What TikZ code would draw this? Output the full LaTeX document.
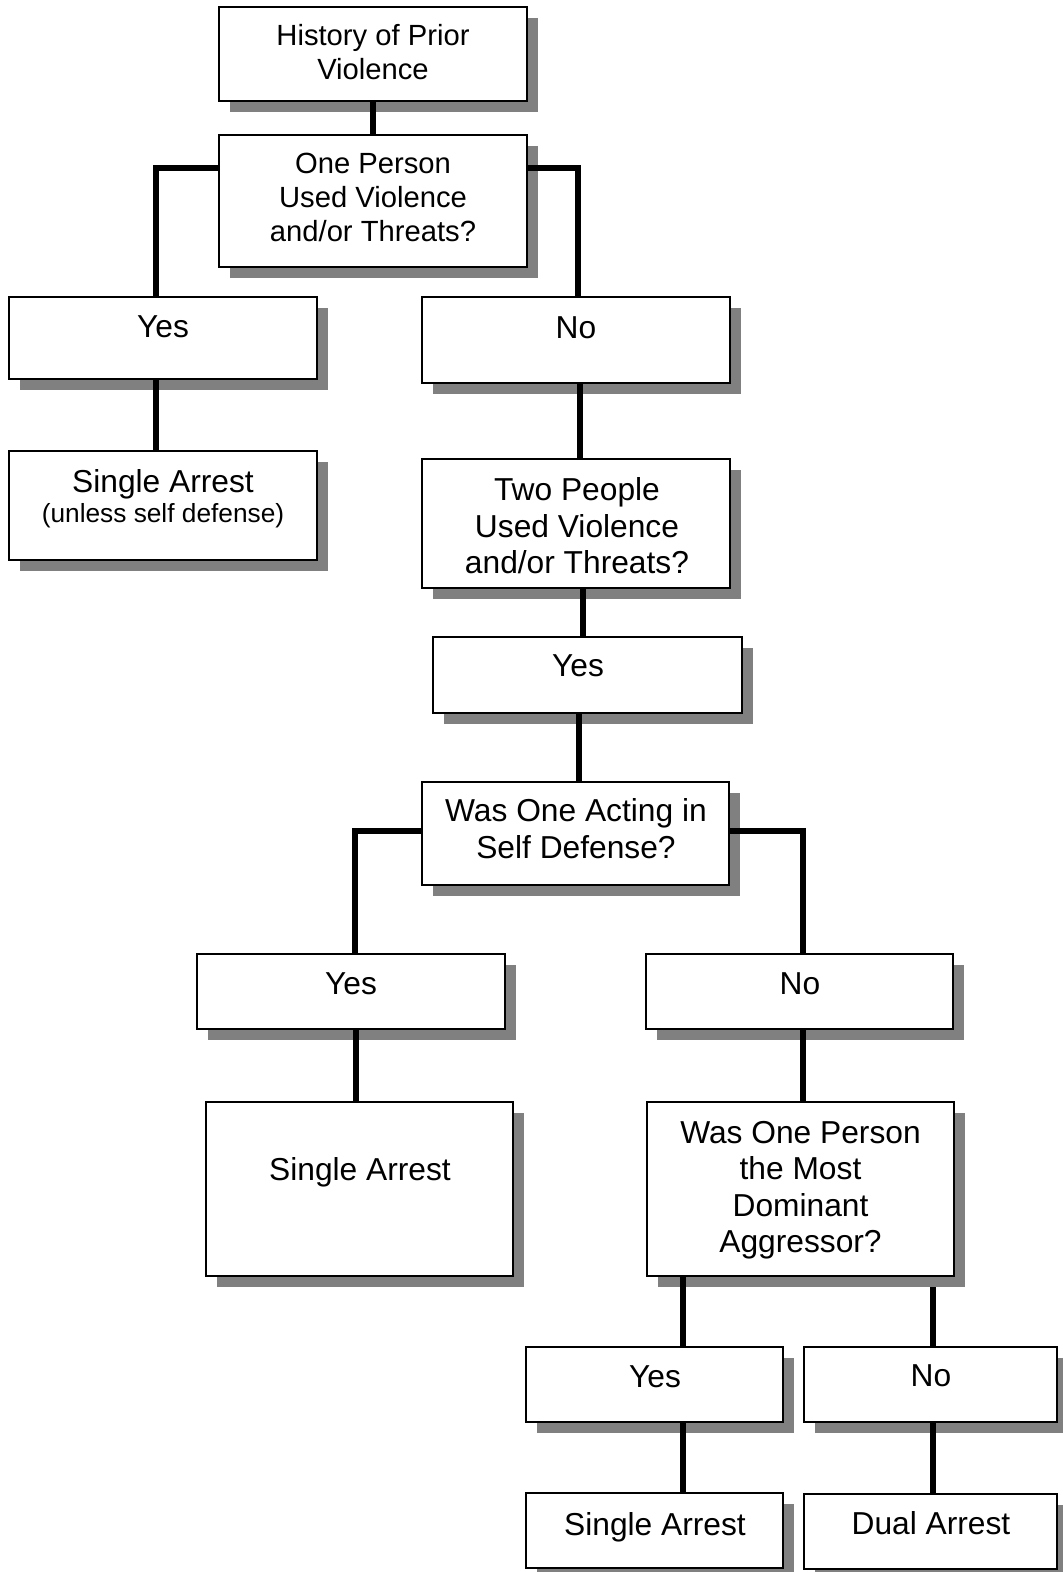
\documentclass[tikz,border=0pt]{standalone}
\usepackage{fontspec}
\setmainfont{Liberation Sans}
\usetikzlibrary{shadows,calc}
\tikzset{
  box/.style={draw=black, line width=1.1pt, fill=white, inner sep=0pt, outer sep=0pt, anchor=north west,
    drop shadow={shadow xshift=8.25pt, shadow yshift=-8.25pt, fill=black!50, opacity=1}},
  sz/.style 2 args={minimum width=#1*0.75pt, minimum height=#2*0.75pt},
  txt/.style={align=center, inner sep=0pt, font=\fontsize{23.8}{27.4}\selectfont},
  txtm/.style={align=center, inner sep=0pt, font=\fontsize{21.9}{25.5}\selectfont},
  txts/.style={align=center, inner sep=0pt, font=\fontsize{19.7}{23}\selectfont},
  conn/.style={line width=4.7pt}
}
\begin{document}
\begin{tikzpicture}[x=0.75pt,y=-0.75pt]
\useasboundingbox (0,0) rectangle (1063,1572);
\path[fill=white] (0,0) rectangle (1063,1572);

% boxes
\node[box, sz={308}{94}]  (b1)  at (219,7) {};
\node[box, sz={308}{132}] (b2)  at (219,135) {};
\node[box, sz={308}{82}]  (y2)  at (9,297) {};
\node[box, sz={308}{109}] (sa2) at (9,451) {};
\node[box, sz={308}{86}]  (n2)  at (422,297) {};
\node[box, sz={308}{129}] (tp)  at (422,459) {};
\node[box, sz={309}{76}]  (y3)  at (433,637) {};
\node[box, sz={307}{103}] (woa) at (422,782) {};
\node[box, sz={308}{75}]  (y4)  at (197,954) {};
\node[box, sz={307}{75}]  (n4)  at (646,954) {};
\node[box, sz={307}{174}] (sa4) at (206,1102) {};
\node[box, sz={307}{174}] (wop) at (647,1102) {};
\node[box, sz={257}{75}]  (y5)  at (526,1347) {};
\node[box, sz={253}{75}]  (n5)  at (804,1347) {};
\node[box, sz={257}{75}]  (sa5) at (526,1493) {};
\node[box, sz={253}{75}]  (da5) at (804,1494) {};

% texts
\node[txtm] (t1) at (373,52) {History of Prior\\Violence};
\node[txtm] (t2) at (373,197) {One Person\\Used Violence\\and/or Threats?};
\node[txt] (t3) at (163,327) {Yes};
\node[txt] (t4a) at (163,484) {Single Arrest};
\node[txts] (t4b) at (163,516) {(unless self defense)};
\node[txt] (t5) at (576,327.5) {No};
\node[txt] (t6) at (577,526) {Two People\\Used Violence\\and/or Threats?};
\node[txt] (t7) at (578,666) {Yes};
\node[txt] (t8) at (576,828.5) {Was One Acting in\\Self Defense?};
\node[txt] (t9) at (351,984) {Yes};
\node[txt] (t10) at (800,984) {No};
\node[txt] (t11) at (360,1172) {Single Arrest};
\node[txt] (t12) at (800.5,1190) {Was One Person\\the Most\\Dominant\\Aggressor?};
\node[txt] (t13) at (655,1377) {Yes};
\node[txt] (t14) at (655,1527) {Single Arrest};
\node[txt] (t15) at (931,1376) {No};
\node[txt] (t16) at (931,1523.5) {Dual Arrest};

% connectors
\draw[conn] (b1.south) -- (b2.north);
\draw[conn] ($(b2.north west)+(0,33)$) -| ($(y2.north)+(-7,0)$);
\draw[conn] ($(b2.north east)+(0,33)$) -| ($(n2.north)+(2,0)$);
\draw[conn] ($(y2.south)+(-7,0)$) -- ($(sa2.north)+(-7,0)$);
\draw[conn] ($(n2.south)+(4,0)$) -- ($(tp.north)+(4,0)$);
\draw[conn] ($(tp.south)+(7,0)$) -- ($(y3.north)+(-4.5,0)$);
\draw[conn] ($(y3.south)+(-8.5,0)$) -- ($(woa.north)+(3.5,0)$);
\draw[conn] ($(woa.north west)+(0,49)$) -| ($(y4.north)+(4,0)$);
\draw[conn] ($(woa.north east)+(0,49)$) -| ($(n4.north)+(3.5,0)$);
\draw[conn] ($(y4.south)+(5,0)$) -- ($(sa4.north)+(-3.5,0)$);
\draw[conn] ($(n4.south)+(3.5,0)$) -- ($(wop.north)+(2.5,0)$);
\draw[conn] ($(wop.south west)+(36,0)$) -- ($(y5.north)+(28.5,0)$);
\draw[conn] ($(wop.south east)+(-21,11)$) -- ($(n5.north)+(2.5,0)$);
\draw[conn] ($(y5.south)+(28.5,0)$) -- ($(sa5.north)+(28.5,0)$);
\draw[conn] ($(n5.south)+(2.5,0)$) -- ($(da5.north)+(2.5,0)$);
\end{tikzpicture}
\end{document}
